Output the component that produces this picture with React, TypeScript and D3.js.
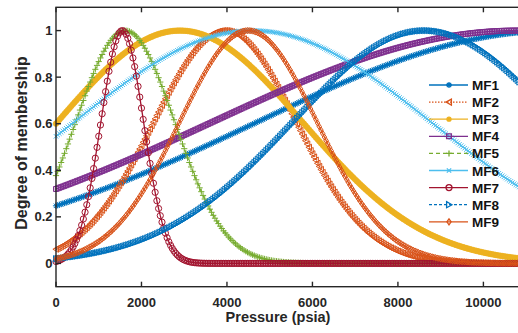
import { useEffect, useRef } from 'react'
import * as d3 from 'd3'

// gaussian membership functions, parameters
const mfNames = ['MF1', 'MF2', 'MF3', 'MF4', 'MF5', 'MF6', 'MF7', 'MF8', 'MF9']
const mfCenters = [11700, 3950, 2900, 10800, 1620, 4600, 1550, 8650, 4500]
const mfSigmas = [7000, 1670, 2870, 7150, 1160, 4180, 500, 3100, 1610]
const pressure = d3.range(0, 12001, 40)

const xTicks = [0, 2000, 4000, 6000, 8000, 10000]
const yTicks = [0, 0.2, 0.4, 0.6, 0.8, 1]

const colors = ['#0072BD', '#D95319', '#EDB120', '#7E2F8E', '#77AC30', '#4DBEEE', '#A2142F', '#0072BD', '#D95319']
const markers = ['*', '<', '.', 's', '+', 'x', 'o', '>', 'd']
const dashes = ['', '1.5,1.5', '', '', '4,3', '', '', '3,2', '']

const W = 518
const H = 333
const axisColor = '#262626'
const font = '"Liberation Sans", Arial, sans-serif'

function gauss(x: number, c: number, s: number) {
  return Math.exp(-((x - c) * (x - c)) / (2 * s * s))
}

function markerPath(m: string, r: number) {
  const k = r * 0.72
  switch (m) {
    case '*':
      return `M${-r},0H${r}M0,${-r}V${r}M${-k},${-k}L${k},${k}M${-k},${k}L${k},${-k}`
    case '+':
      return `M${-r},0H${r}M0,${-r}V${r}`
    case 'x':
      return `M${-k},${-k}L${k},${k}M${-k},${k}L${k},${-k}`
    case 's':
      return `M${-r * 0.8},${-r * 0.8}H${r * 0.8}V${r * 0.8}H${-r * 0.8}Z`
    case 'd':
      return `M0,${-r}L${r * 0.7},0L0,${r}L${-r * 0.7},0Z`
    case '<':
      return `M${-r},0L${r * 0.8},${-r}L${r * 0.8},${r}Z`
    case '>':
      return `M${r},0L${-r * 0.8},${-r}L${-r * 0.8},${r}Z`
    default:
      return `M${r},0A${r},${r} 0 1,1 ${-r},0A${r},${r} 0 1,1 ${r},0Z`
  }
}

export default function App() {
  const svgRef = useRef<SVGSVGElement | null>(null)

  useEffect(() => {
    const svg = d3.select(svgRef.current)
    svg.selectAll('*').remove()

    const left = 56
    const top = 7.3
    const bottom = 286.7
    const x = d3.scaleLinear().domain([0, 12000]).range([left, left + 12000 * 0.04274])
    const y = d3.scaleLinear().domain([-0.1, 1.1]).range([bottom, top])
    const right = x(12000)

    const plot = svg.append('g')
    const lineGen = d3.line<number>().x((d) => x(d))

    mfNames.forEach((_, i) => {
      const vals = pressure.map((p) => gauss(p, mfCenters[i], mfSigmas[i]))
      const g = plot.append('g')
      g.append('path')
        .attr('d', lineGen.y((_d, j) => y(vals[j]))(pressure))
        .attr('fill', 'none')
        .attr('stroke', colors[i])
        .attr('stroke-width', 1.3)
        .attr('stroke-dasharray', dashes[i] || null)
      const r = markers[i] === '.' ? 2.8 : 3.1
      g.selectAll('path.m')
        .data(pressure)
        .join('path')
        .attr('class', 'm')
        .attr('transform', (p, j) => `translate(${x(p)},${y(vals[j])})`)
        .attr('d', markerPath(markers[i], r))
        .attr('fill', markers[i] === '.' ? colors[i] : 'none')
        .attr('stroke', colors[i])
        .attr('stroke-width', markers[i] === '.' ? 0.6 : 1)
    })

    // axes frame with inward ticks
    const ax = svg.append('g').attr('stroke', axisColor).attr('stroke-width', 1.4)
    ax.append('rect')
      .attr('x', left)
      .attr('y', top)
      .attr('width', right - left)
      .attr('height', bottom - top)
      .attr('fill', 'none')
    xTicks.forEach((t) => {
      ax.append('line').attr('x1', x(t)).attr('x2', x(t)).attr('y1', bottom).attr('y2', bottom - 5)
      ax.append('line').attr('x1', x(t)).attr('x2', x(t)).attr('y1', top).attr('y2', top + 5)
    })
    yTicks.forEach((t) => {
      ax.append('line').attr('x1', left).attr('x2', left + 5).attr('y1', y(t)).attr('y2', y(t))
    })

    const labels = svg
      .append('g')
      .attr('fill', axisColor)
      .attr('font-family', font)
      .attr('font-weight', 'bold')
    labels
      .selectAll('text.xt')
      .data(xTicks)
      .join('text')
      .attr('class', 'xt')
      .attr('x', (d) => x(d))
      .attr('y', 306.5)
      .attr('text-anchor', 'middle')
      .attr('font-size', 13)
      .text((d) => String(d))
    labels
      .selectAll('text.yt')
      .data(yTicks)
      .join('text')
      .attr('class', 'yt')
      .attr('x', 52.5)
      .attr('y', (d) => y(d) + 4.6)
      .attr('text-anchor', 'end')
      .attr('font-size', 13)
      .text((d) => String(d))
    labels
      .append('text')
      .attr('x', 278)
      .attr('y', 322)
      .attr('text-anchor', 'middle')
      .attr('font-size', 14.5)
      .text('Pressure (psia)')
    labels
      .append('text')
      .attr('transform', 'translate(27,143) rotate(-90)')
      .attr('text-anchor', 'middle')
      .attr('font-size', 16)
      .text('Degree of membership')

    // legend
    const lg = svg.append('g')
    mfNames.forEach((name, i) => {
      const ly = 85 + i * 17.1
      lg.append('line')
        .attr('x1', 429)
        .attr('x2', 468)
        .attr('y1', ly)
        .attr('y2', ly)
        .attr('stroke', colors[i])
        .attr('stroke-width', 1.3)
        .attr('stroke-dasharray', dashes[i] || null)
      lg.append('path')
        .attr('transform', `translate(449,${ly})`)
        .attr('d', markerPath(markers[i], markers[i] === '.' ? 2 : 3))
        .attr('fill', markers[i] === '.' ? colors[i] : 'none')
        .attr('stroke', colors[i])
        .attr('stroke-width', 1.3)
      lg.append('text')
        .attr('x', 472)
        .attr('y', ly + 5)
        .attr('font-family', font)
        .attr('font-weight', 'bold')
        .attr('font-size', 13.5)
        .attr('fill', '#111')
        .text(name)
    })
  }, [])

  return (
    <div style={{ position: 'fixed', left: 0, top: 0, width: W, height: H, background: '#fff' }}>
      <svg ref={svgRef} width={W} height={H} style={{ display: 'block' }} />
    </div>
  )
}
